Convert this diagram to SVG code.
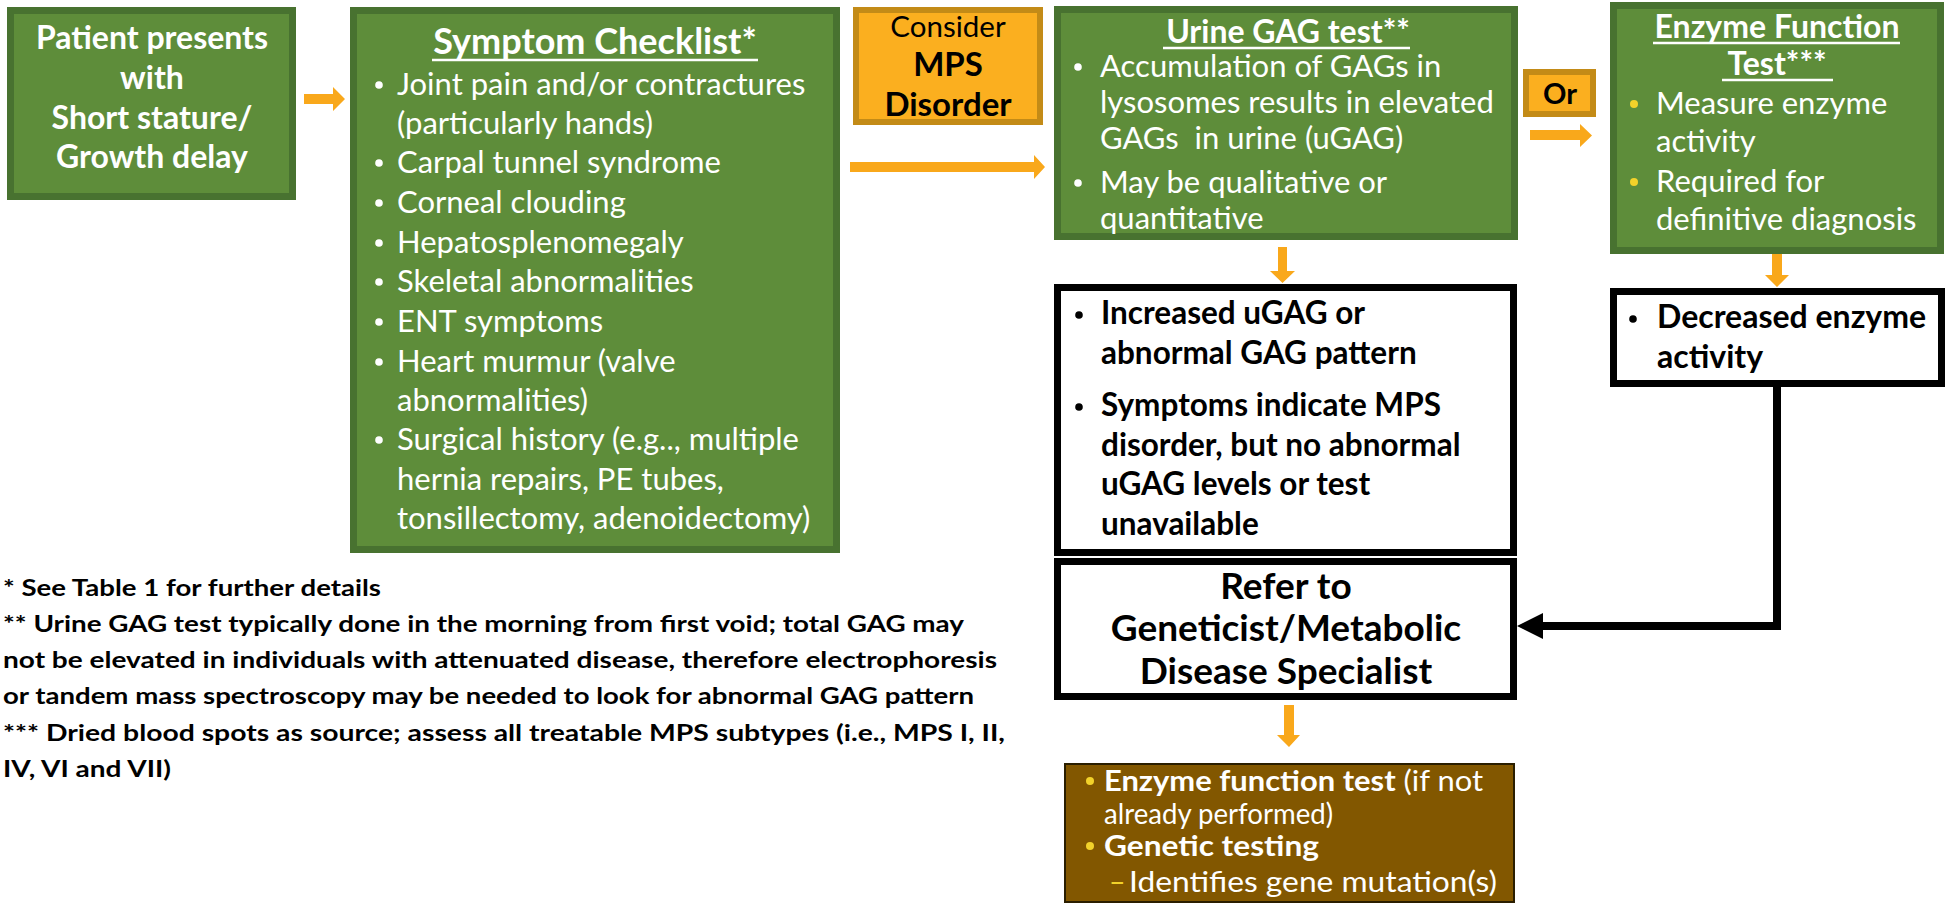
<svg xmlns="http://www.w3.org/2000/svg" width="1946" height="906" viewBox="0 0 1946 906">
<style>
text{font-family:Lato,"Open Sans","Liberation Sans",sans-serif}
.g{fill:#5e8d3a;stroke:#487230;stroke-width:7}
.o{fill:#fbaf1f;stroke:#c38b17;stroke-width:6}
.k{fill:#fff;stroke:#000;stroke-width:7}
.w{fill:#fff}
.b{fill:#000}
.bd{font-weight:bold}
.ul{stroke:#fff;stroke-width:2.5}
.arr{fill:#f9a81b}
.y{fill:#f2d22a}
</style>
<g id="connectors">
<path class="arr" d="M304,94H333V87L345,99L333,111V104H304Z"/>
<path class="arr" d="M850,162H1034V155L1045,167L1034,179V172H850Z"/>
<path class="arr" d="M1530,130H1580V124L1592,135.5L1580,147V140H1530Z"/>
<path class="arr" d="M1278,247H1287V271H1295L1282.5,283L1270,271H1278Z"/>
<path class="arr" d="M1772,253H1782V275H1789L1777,287L1765,275H1772Z"/>
<path class="arr" d="M1284,705H1294V735H1300L1289,747L1277,735H1284Z"/>
<polyline points="1777,387 1777,626 1540,626" fill="none" stroke="#000" stroke-width="8"/>
<path d="M1517,626L1543,613V639Z" fill="#000"/>
</g>
<g id="patient">
<rect class="g" x="10.5" y="10.5" width="282" height="186"/>
<text class="w bd" font-size="32" text-anchor="middle"><tspan x="152" y="49">Patient presents</tspan><tspan x="152" y="89">with</tspan><tspan x="152" y="129">Short stature/</tspan><tspan x="152" y="168">Growth delay</tspan></text>
</g>
<g id="checklist">
<rect class="g" x="353.5" y="10.5" width="483" height="539"/>
<text class="w bd" font-size="36" x="595" y="54" text-anchor="middle">Symptom Checklist*</text>
<line class="ul" x1="432" y1="60" x2="758" y2="60"/>
<g class="w">
<circle cx="379" cy="85" r="3.8"/><circle cx="379" cy="163" r="3.8"/><circle cx="379" cy="203" r="3.8"/><circle cx="379" cy="243" r="3.8"/><circle cx="379" cy="282" r="3.8"/><circle cx="379" cy="322" r="3.8"/><circle cx="379" cy="362" r="3.8"/><circle cx="379" cy="440" r="3.8"/>
</g>
<g class="w" font-size="31">
<text x="397" y="95">Joint pain and/or contractures</text>
<text x="397" y="134">(particularly hands)</text>
<text x="397" y="173">Carpal tunnel syndrome</text>
<text x="397" y="213">Corneal clouding</text>
<text x="397" y="253">Hepatosplenomegaly</text>
<text x="397" y="292">Skeletal abnormalities</text>
<text x="397" y="332">ENT symptoms</text>
<text x="397" y="372">Heart murmur (valve</text>
<text x="397" y="411">abnormalities)</text>
<text x="397" y="450">Surgical history (e.g.., multiple</text>
<text x="397" y="490">hernia repairs, PE tubes,</text>
<text x="397" y="529">tonsillectomy, adenoidectomy)</text>
</g>
</g>
<g id="consider">
<rect class="o" x="856" y="10" width="184" height="112"/>
<text class="b" font-size="29.5" x="948" y="37" text-anchor="middle">Consider</text>
<text class="b bd" font-size="33" x="948" y="76" text-anchor="middle">MPS</text>
<text class="b bd" font-size="33" x="948" y="116" text-anchor="middle">Disorder</text>
</g>
<g id="urine">
<rect class="g" x="1057.5" y="9.5" width="457" height="227"/>
<text class="w bd" font-size="32" x="1288" y="43" text-anchor="middle">Urine GAG test**</text>
<line class="ul" x1="1163" y1="48" x2="1410" y2="48"/>
<circle class="w" cx="1078" cy="67" r="3.8"/><circle class="w" cx="1078" cy="183" r="3.8"/>
<g class="w" font-size="31">
<text x="1100" y="77">Accumulation of GAGs in</text>
<text x="1100" y="113">lysosomes results in elevated</text>
<text x="1100" y="149">GAGs&#160; in urine (uGAG)</text>
<text x="1100" y="193">May be qualitative or</text>
<text x="1100" y="229">quantitative</text>
</g>
</g>
<g id="or">
<rect class="o" x="1526" y="72" width="67" height="42"/>
<text class="b bd" font-size="29" x="1560" y="104" text-anchor="middle">Or</text>
</g>
<g id="enzyme">
<rect class="g" x="1613.5" y="5.5" width="327" height="245"/>
<text class="w bd" font-size="32" text-anchor="middle"><tspan x="1777" y="38">Enzyme Function</tspan><tspan x="1777" y="75">Test***</tspan></text>
<line class="ul" x1="1653" y1="43" x2="1900" y2="43"/>
<line class="ul" x1="1722" y1="80" x2="1833" y2="80"/>
<circle class="y" cx="1634" cy="104" r="4"/><circle class="y" cx="1634" cy="182" r="4"/>
<g class="w" font-size="31">
<text x="1656" y="114">Measure enzyme</text>
<text x="1656" y="152">activity</text>
<text x="1656" y="192">Required for</text>
<text x="1656" y="230">definitive diagnosis</text>
</g>
</g>
<g id="increased">
<rect class="k" x="1057.5" y="287.5" width="456" height="265"/>
<circle class="b" cx="1079" cy="315" r="3.8"/><circle class="b" cx="1079" cy="407" r="3.8"/>
<g class="b bd" font-size="31.5">
<text x="1101" y="324">Increased uGAG or</text>
<text x="1101" y="364">abnormal GAG pattern</text>
<text x="1101" y="416">Symptoms indicate MPS</text>
<text x="1101" y="456">disorder, but no abnormal</text>
<text x="1101" y="495">uGAG levels or test</text>
<text x="1101" y="535">unavailable</text>
</g>
</g>
<g id="decreased">
<rect class="k" x="1613.5" y="291.5" width="328" height="92"/>
<circle class="b" cx="1633" cy="319" r="3.8"/>
<g class="b bd" font-size="32">
<text x="1657" y="328">Decreased enzyme</text>
<text x="1657" y="368">activity</text>
</g>
</g>
<g id="refer">
<rect class="k" x="1057.5" y="561.5" width="456" height="135"/>
<text class="b bd" font-size="37" text-anchor="middle"><tspan x="1286" y="599">Refer to</tspan><tspan x="1286" y="641">Geneticist/Metabolic</tspan><tspan x="1286" y="684">Disease Specialist</tspan></text>
</g>
<g id="next">
<rect x="1065" y="764" width="449" height="138" fill="#825700" stroke="#2a1e00" stroke-width="2"/>
<circle class="y" cx="1090" cy="781" r="4"/><circle class="y" cx="1090" cy="846" r="4"/>
<g font-size="28.5">
<text class="w" x="1104" y="791" textLength="379" lengthAdjust="spacingAndGlyphs"><tspan class="bd">Enzyme function test</tspan> (if not</text>
<text class="w" x="1104" y="824" textLength="229" lengthAdjust="spacingAndGlyphs">already performed)</text>
<text class="w bd" x="1104" y="856" textLength="215" lengthAdjust="spacingAndGlyphs">Genetic testing</text>
<text class="y" x="1109" y="892">–</text><text class="w" x="1129" y="892" textLength="368" lengthAdjust="spacingAndGlyphs">Identifies gene mutation(s)</text>
</g>
</g>
<g id="footnotes" class="b bd" font-size="23">
<text x="3" y="596" textLength="378" lengthAdjust="spacingAndGlyphs">* See Table 1 for further details</text>
<text x="3" y="632" textLength="961" lengthAdjust="spacingAndGlyphs">** Urine GAG test typically done in the morning from first void; total GAG may</text>
<text x="3" y="668" textLength="994" lengthAdjust="spacingAndGlyphs">not be elevated in individuals with attenuated disease, therefore electrophoresis</text>
<text x="3" y="704" textLength="971" lengthAdjust="spacingAndGlyphs">or tandem mass spectroscopy may be needed to look for abnormal GAG pattern</text>
<text x="3" y="741" textLength="1002" lengthAdjust="spacingAndGlyphs">*** Dried blood spots as source; assess all treatable MPS subtypes (i.e., MPS I, II,</text>
<text x="3" y="777" textLength="168" lengthAdjust="spacingAndGlyphs">IV, VI and VII)</text>
</g>
</svg>
